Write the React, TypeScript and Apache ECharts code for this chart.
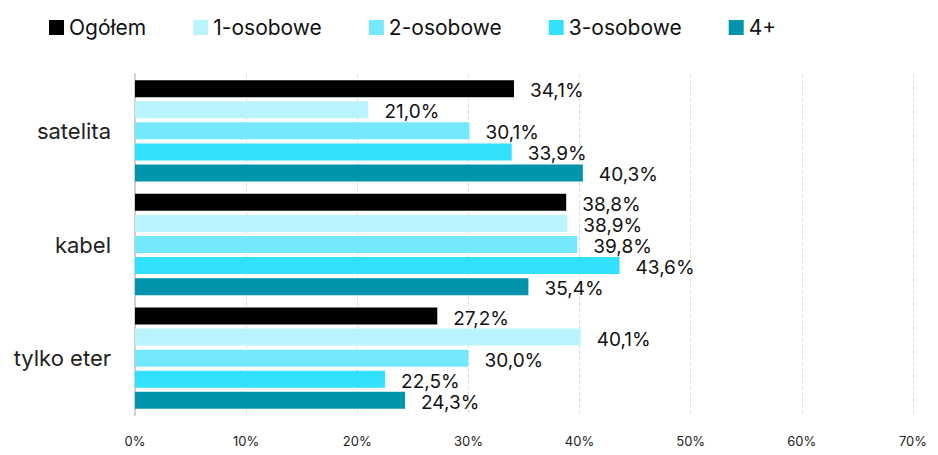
import React, { useEffect, useRef } from "react";
import * as echarts from "echarts";

const categories = ["satelita", "kabel", "tylko eter"];
const seriesNames = ["Ogółem", "1-osobowe", "2-osobowe", "3-osobowe", "4+"];
const ogolem = [34.1, 38.8, 27.2];
const os1 = [21.0, 38.9, 40.1];
const os2 = [30.1, 39.8, 30.0];
const os3 = [33.9, 43.6, 22.5];
const os4 = [40.3, 35.4, 24.3];
const colors = ["#000000", "#b9f3fc", "#74e9fb", "#33e0fc", "#0095ad"];

const FONT = "Inter, 'Noto Sans', sans-serif";

export default function App() {
  const ref = useRef<HTMLDivElement>(null);
  useEffect(() => {
    if (!ref.current) return;
    const chart = echarts.init(ref.current, null, { renderer: "svg" });
    const data = [ogolem, os1, os2, os3, os4];
    chart.setOption({
      animation: false,
      textStyle: { fontFamily: FONT },
      legend: {
        left: 36,
        top: 4,
        itemWidth: 15,
        itemHeight: 15,
        itemGap: 47,
        icon: "rect",
        textStyle: { fontSize: 21, color: "#111", fontFamily: FONT },
        data: seriesNames,
      },
      grid: { left: 127, right: 8, top: 66, bottom: 19, containLabel: false },
      xAxis: {
        type: "value",
        min: 0,
        max: 70,
        interval: 10,
        axisLine: { show: false },
        axisTick: { show: false },
        splitLine: { show: true, lineStyle: { type: "dashed", color: "#e0e0e0" } },
        axisLabel: {
          formatter: (v: number) => v + "%",
          fontSize: 13,
          color: "#222",
          margin: 19,
          fontFamily: FONT,
        },
      },
      yAxis: {
        type: "category",
        data: categories,
        inverse: true,
        axisLine: { show: true, lineStyle: { color: "#d0d0d0", width: 2 } },
        axisTick: { show: false },
        axisLabel: { fontSize: 22, color: "#222", margin: 24, fontFamily: FONT },
      },
      series: seriesNames.map((name, i) => ({
        name,
        type: "bar",
        data: data[i],
        barWidth: 17,
        barGap: "24%",
        barCategoryGap: "13%",
        itemStyle: { color: colors[i] },
        label: {
          show: true,
          position: "right",
          distance: 16,
          fontSize: 19,
          color: "#111",
          fontFamily: FONT,
          offset: [0, 2],
          formatter: (p: any) => p.value.toFixed(1).replace(".", ",") + "%",
        },
      })),
    });
    return () => chart.dispose();
  }, []);
  return <div ref={ref} style={{ width: 922, height: 439 }} />;
}
